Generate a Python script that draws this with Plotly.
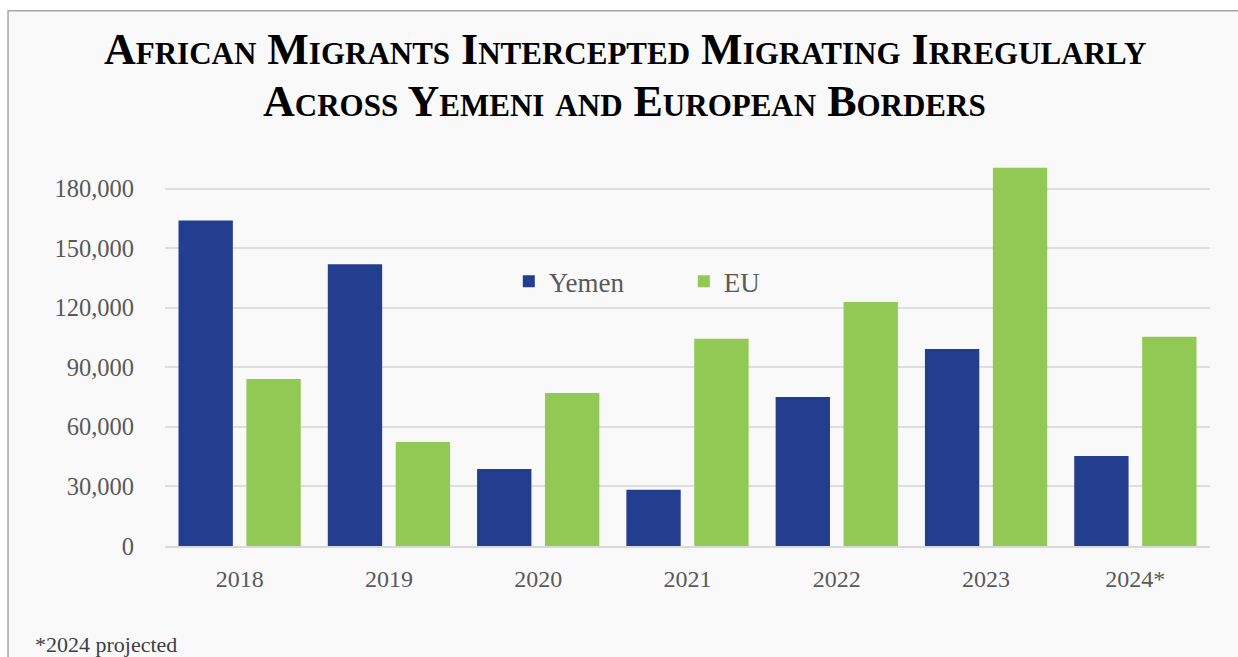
import plotly.graph_objects as go

years = ["2018", "2019", "2020", "2021", "2022", "2023", "2024*"]
yemen = [164000, 142000, 38800, 28300, 75100, 99300, 45400]
eu = [84200, 52400, 77100, 104400, 123000, 190600, 105400]
tick_vals = [0, 30000, 60000, 90000, 120000, 150000, 180000]
tick_text = ["0", "30,000", "60,000", "90,000", "120,000", "150,000", "180,000"]

title_line1 = "African Migrants Intercepted Migrating Irregularly"
title_line2 = "Across Yemeni and European Borders"
footnote = "*2024 projected"

FONT = "Liberation Serif"
TITLE_FONT = dict(family=FONT, size=44, color="black", weight="bold", variant="small-caps")

fig = go.Figure()
fig.add_trace(go.Bar(name="Yemen", x=years, y=yemen, marker=dict(color="#233E8E", line=dict(width=0))))
fig.add_trace(go.Bar(name="EU", x=years, y=eu, marker=dict(color="#92C954", line=dict(width=0))))

fig.update_layout(
    width=1238, height=657,
    margin=dict(l=165, r=28, t=159, b=111),
    paper_bgcolor="white",
    plot_bgcolor="rgba(0,0,0,0)",
    barmode="group",
    bargap=0.09,
    bargroupgap=0.2,
    font=dict(family=FONT, color="#595959", size=24),
    legend=dict(
        orientation="h",
        x=0.329, xanchor="left",
        y=0.683, yanchor="middle",
        bgcolor="rgba(0,0,0,0)",
        font=dict(size=27, color="#595959", family=FONT),
        entrywidth=130, entrywidthmode="pixels",
        itemclick=False,
    ),
    xaxis=dict(
        showgrid=False,
        showline=True, linecolor="#d9d9d9", linewidth=2,
        ticks="", ticklabelstandoff=10,
        tickfont=dict(size=24, color="#595959"),
    ),
    yaxis=dict(
        range=[0, 195000],
        tickvals=tick_vals, ticktext=tick_text,
        showgrid=True, gridcolor="#dedede", gridwidth=1.5,
        zeroline=False, showline=False,
        ticks="", ticklabelstandoff=30,
        tickfont=dict(size=24.5, color="#595959"),
    ),
    shapes=[
        dict(type="rect", xref="paper", yref="paper",
             x0=-0.1502, x1=1.2, y0=-0.6, y1=1.3833,
             fillcolor="#f9f9f9", line=dict(color="#a6a6a6", width=1.5),
             layer="below"),
    ],
    annotations=[
        dict(text=title_line1, xref="paper", yref="paper",
             x=0.440, y=1.2825, xanchor="center", yanchor="middle",
             showarrow=False, font=TITLE_FONT),
        dict(text=title_line2, xref="paper", yref="paper",
             x=0.440, y=1.148, xanchor="center", yanchor="middle",
             showarrow=False, font=TITLE_FONT),
        dict(text=footnote, xref="paper", yref="paper",
             x=-0.126, y=-0.255, xanchor="left", yanchor="middle",
             showarrow=False, font=dict(size=22, color="#404040", family=FONT)),
    ],
)

fig.write_html("out.html")
